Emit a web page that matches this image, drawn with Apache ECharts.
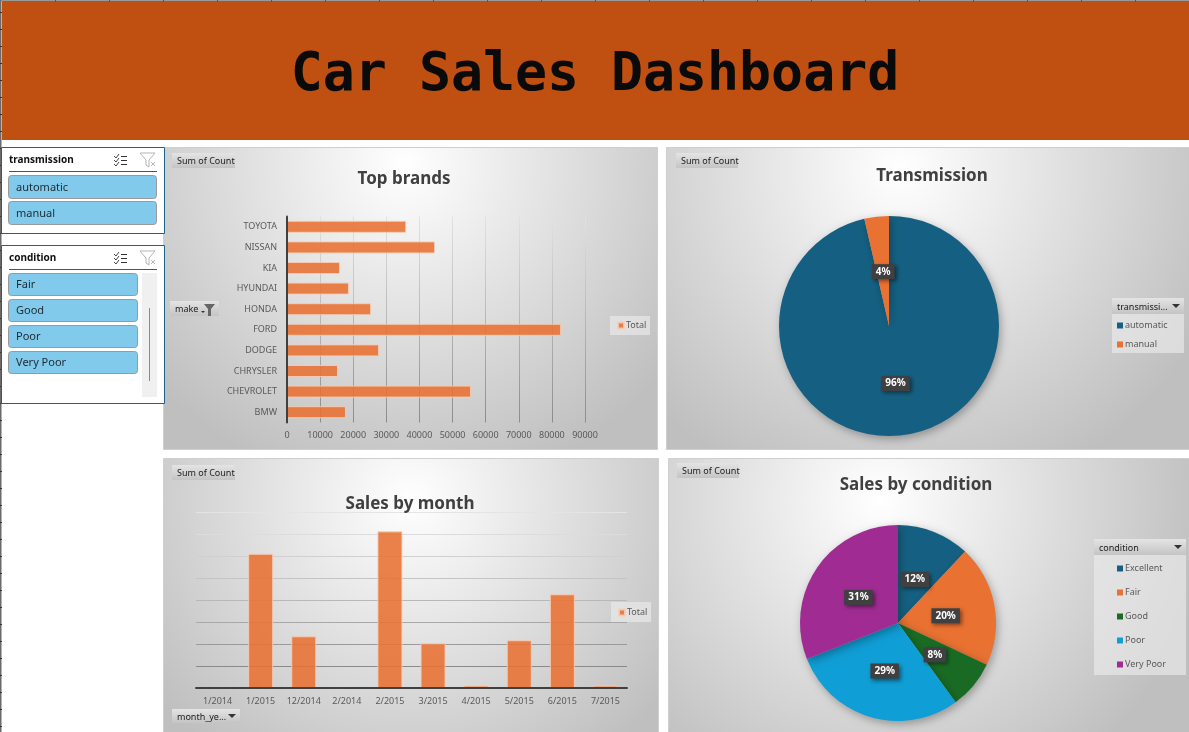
<!DOCTYPE html>
<html><head><meta charset="utf-8">
<style>html,body{margin:0;padding:0;background:#fff}#c{width:1189px;height:732px}</style>
<script src="https://cdn.jsdelivr.net/npm/echarts@6/dist/echarts.min.js"></script>
</head><body><div id="c"></div>
<script>
var dashboardTitle = 'Car Sales Dashboard';
var brandNames = ['BMW','CHEVROLET','CHRYSLER','DODGE','FORD','HONDA','HYUNDAI','KIA','NISSAN','TOYOTA'];
var brandCounts = [17800,55600,15400,27800,82800,25400,18700,16000,44700,36000];
var monthNames = ['1/2014','1/2015','12/2014','2/2014','2/2015','3/2015','4/2015','5/2015','6/2015','7/2015'];
var monthCounts = [null,61000,23500,null,71200,20300,1100,21700,42600,1100];
var transmissionNames = ['automatic','manual'];
var transmissionShares = [96.4,3.6];
var conditionNames = ['Excellent','Fair','Good','Poor','Very Poor'];
var conditionShares = [12,20,8,29,31];
var conditionSlicerItems = ['Fair','Good','Poor','Very Poor'];

var UI = '"Noto Sans", sans-serif';
var ORANGE = '#E97132';
var chart = echarts.init(document.getElementById('c'), null, {renderer:'canvas'});

function grad(x1,y1,x2,y2,c1,c2){ return new echarts.graphic.LinearGradient(x1,y1,x2,y2,[{offset:0,color:c1},{offset:1,color:c2}],true); }
function panel(x,y,w,h,cx,cy,r){
  return {type:'rect',z:-10,shape:{x:x+.5,y:y+.5,width:w,height:h},
    style:{fill:new echarts.graphic.RadialGradient(cx,cy,r,[{offset:0,color:'#ffffff'},{offset:1,color:'#bfbfbf'}],true),stroke:'#cfcfcf',lineWidth:1}};
}
function fieldBtn(x,y,w,h,label,arrow){
  var els=[{type:'rect',z:-5,shape:{x:x,y:y,width:w,height:h},style:{fill:grad(0,y,0,y+h,'#e4e4e4','#c4c4c4')}},
    {type:'text',z:-4,style:{x:x+5,y:y+h/2+1,text:label,font:'9px '+UI,fill:'#1a1a1a',verticalAlign:'middle'}}];
  if(arrow) els.push({type:'polygon',z:-4,shape:{points:[[x+w-12,y+h/2-2],[x+w-4,y+h/2-2],[x+w-8,y+h/2+2]]},style:{fill:'#333'}});
  return els;
}
function legendBox(x,y,w,h){ return {type:'rect',z:-5,shape:{x:x,y:y,width:w,height:h},style:{fill:'rgba(235,235,235,0.65)'}}; }
function slicerIcons(x,y){
  var els=[];
  [0,4,8].forEach(function(d){
    els.push({type:'polyline',shape:{points:[[x,y+d],[x+2,y+d+2],[x+5,y+d-2]]},style:{stroke:'#333',lineWidth:.9,fill:null}});
    els.push({type:'line',shape:{x1:x+7,y1:y+d+.5,x2:x+13,y2:y+d+.5},style:{stroke:'#333',lineWidth:1}});
  });
  els.push({type:'polyline',shape:{points:[[x+26,y-3],[x+41,y-3],[x+35,y+4],[x+35,y+11],[x+32,y+9],[x+32,y+4],[x+26,y-3]]},style:{stroke:'#b5b5b5',lineWidth:1,fill:null}});
  els.push({type:'line',shape:{x1:x+37,y1:y+6,x2:x+41,y2:y+10},style:{stroke:'#b5b5b5',lineWidth:1}});
  els.push({type:'line',shape:{x1:x+41,y1:y+6,x2:x+37,y2:y+10},style:{stroke:'#b5b5b5',lineWidth:1}});
  return els;
}
function slicer(y,h,title,items,bw,lineY,firstY,step,bh){
  var els=[{type:'rect',shape:{x:1.5,y:y+.5,width:163,height:h},style:{fill:'#fff',stroke:'#1F6287',lineWidth:1}},
    {type:'text',style:{x:9,y:lineY-11,text:title,font:'bold 10px '+UI,fill:'#111',verticalAlign:'middle'}},
    {type:'line',shape:{x1:9,y1:lineY+.5,x2:157,y2:lineY+.5},style:{stroke:'#1F6287',lineWidth:1}}];
  items.forEach(function(t,i){
    var by=firstY+i*step;
    els.push({type:'rect',shape:{x:8.5,y:by+.5,width:bw,height:bh,r:3},style:{fill:'#82CAEB',stroke:'#999',lineWidth:1}});
    els.push({type:'text',style:{x:16,y:by+bh/2+1,text:t,font:'11px '+UI,fill:'#1c2a33',verticalAlign:'middle'}});
  });
  return els.concat(slicerIcons(114,lineY-15));
}

var graphics=[];
graphics.push({type:'rect',z:-10,shape:{x:2,y:1,width:1187,height:139},style:{fill:'#BF5011'}});
graphics.push({type:'rect',z:-9,shape:{x:0,y:0,width:1189,height:1},style:{fill:'#9a9a9a'}});
graphics.push({type:'rect',z:-9,shape:{x:0,y:0,width:1.5,height:732},style:{fill:'#6a6a6a'}});
for(var tx=55;tx<1189;tx+=54){ graphics.push({type:'rect',z:-9,shape:{x:tx,y:0,width:1,height:2},style:{fill:'#555'}}); }
for(var ty=12;ty<732;ty+=17){ graphics.push({type:'rect',z:-9,shape:{x:0,y:ty,width:2,height:1},style:{fill:'#333'}}); }
graphics.push({type:'text',style:{x:595,y:76,text:dashboardTitle,font:'bold 53.2px "DejaVu Sans Mono", monospace',fill:'#0a0a0a',align:'center',verticalAlign:'middle'}});
graphics.push(panel(163,147,494,302,405,165,330));
graphics.push(panel(666,147,523,302,900,170,340));
graphics.push(panel(163,458,495,274,410,500,320));
graphics.push(panel(668,458,521,274,880,500,330));
graphics=graphics
 .concat(slicer(147,86,'transmission',transmissionNames,148,171,175,26,23))
 .concat(slicer(245,158,'condition',conditionSlicerItems,129,269,273,26,22));
graphics.push({type:'rect',shape:{x:142,y:273,width:15,height:124},style:{fill:'#f0f0f0'}});
graphics.push({type:'line',shape:{x1:149.5,y1:308,x2:149.5,y2:381},style:{stroke:'#8a8a8a',lineWidth:1}});
graphics=graphics
 .concat(fieldBtn(172,153,63,15,'Sum of Count'))
 .concat(fieldBtn(676,153,62,15,'Sum of Count'))
 .concat(fieldBtn(172,465,63,15,'Sum of Count'))
 .concat(fieldBtn(677,463,62,15,'Sum of Count'))
 .concat(fieldBtn(170,301,49,15,'make'))
 .concat(fieldBtn(172,709,68,14,'month_ye...',true))
 .concat(fieldBtn(1112,298,72,16,'transmissi...',true))
 .concat(fieldBtn(1094,539,92,16,'condition',true));
graphics.push({type:'polygon',z:-4,shape:{points:[[201,311],[205,311],[203,313]]},style:{fill:'#333'}});
graphics.push({type:'polygon',z:-4,shape:{points:[[204,304],[215,304],[211,309],[211,316],[208,316],[208,309]]},style:{fill:'#666'}});
graphics.push(legendBox(610,316,40,19));
graphics.push(legendBox(611,602,40,20));
graphics.push(legendBox(1112,314,72,39));
graphics.push(legendBox(1094,555,92,120));

function titleAt(text,x,y){ return {text:text,left:x,top:y,textAlign:'center',textStyle:{fontFamily:UI,fontWeight:'bold',fontSize:17,color:'#404040'},padding:0}; }
function legendAt(names,x,y,gap){ return {data:names,left:x,top:y,orient:'vertical',icon:'rect',itemWidth:6,itemHeight:6,itemGap:gap,padding:0,
  selectedMode:false,textStyle:{fontFamily:UI,fontSize:9,color:'#595959',padding:[0,0,0,-3],lineHeight:11}}; }
var pctLabel={show:true,position:'inside',formatter:'{d}%',color:'#fff',fontFamily:UI,fontWeight:'bold',fontSize:10,backgroundColor:'#404040',padding:[3,4,2,4],
  shadowBlur:4,shadowColor:'rgba(0,0,0,0.45)',shadowOffsetX:2,shadowOffsetY:2};
var pieShadow={shadowBlur:8,shadowColor:'rgba(0,0,0,0.3)',shadowOffsetX:2,shadowOffsetY:3};
function pullIn(cx,cy,ks,shiftY){
  return function(p){
    var k=ks[p.dataIndex];
    var lx=p.rect.x+p.rect.width/2, ly=p.rect.y+p.rect.height/2;
    return {dx:(k-1)*(lx-cx),dy:(k-1)*(ly-cy)+shiftY};
  };
}

var option={
  animation:false,
  title:[titleAt('Top brands',404,171),titleAt('Transmission',932,168),titleAt('Sales by month',410,496),titleAt('Sales by condition',916,477)],
  legend:[legendAt(['Total'],617,320,0),legendAt(transmissionNames,1117,320,8),legendAt(['Total'],618,607,0),legendAt(conditionNames,1117,563,13)],
  grid:[{left:287,top:216.5,width:298,height:206},{left:196,top:512,width:431,height:176}],
  xAxis:[
    {gridIndex:0,type:'value',min:0,max:90000,interval:10000,axisLine:{show:false},axisTick:{show:false},
     axisLabel:{fontFamily:UI,fontSize:9,color:'#595959',margin:8,formatter:function(v){return String(v);}},
     splitLine:{lineStyle:{width:1,color:grad(0,216,0,422,'#e2e2e2','#8c8c8c')}}},
    {gridIndex:1,type:'category',data:monthNames,z:5,axisLine:{lineStyle:{color:'#404040',width:2}},axisTick:{show:false},
     axisLabel:{fontFamily:UI,fontSize:9,color:'#595959',margin:9,interval:0},splitLine:{show:false}}
  ],
  yAxis:[
    {gridIndex:0,type:'category',data:brandNames,z:5,axisLine:{lineStyle:{color:'#404040',width:2}},axisTick:{show:false},
     axisLabel:{fontFamily:UI,fontSize:9,color:'#595959',margin:10,interval:0},splitLine:{show:false}},
    {gridIndex:1,type:'value',min:0,max:80000,interval:10000,axisLine:{show:false},axisTick:{show:false},axisLabel:{show:false},
     splitLine:{lineStyle:{width:1,color:['#8a8a8a','#8a8a8a','#9a9a9a','#a8a8a8','#b8b8b8','#c4c4c4','#d0d0d0','#dcdcdc','#e4e4e4']}}}
  ],
  series:[
    {name:'Total',type:'bar',xAxisIndex:0,yAxisIndex:0,data:brandCounts,barWidth:12,itemStyle:{color:ORANGE,opacity:.88,borderColor:'#f6cdb8',borderWidth:1}},
    {name:'Total',type:'bar',xAxisIndex:1,yAxisIndex:1,data:monthCounts,barWidth:25,itemStyle:{color:ORANGE,opacity:.88,borderColor:'#f6cdb8',borderWidth:1}},
    {name:'Transmission',type:'pie',center:[889,326],radius:[0,110],startAngle:90,clockwise:true,percentPrecision:0,
     data:transmissionNames.map(function(n,i){return {name:n,value:transmissionShares[i]};}),
     color:['#156082','#E97132'],label:pctLabel,labelLine:{show:false},labelLayout:pullIn(889,326,[0.89,0.94],0),itemStyle:pieShadow,emphasis:{disabled:true}},
    {name:'Condition',type:'pie',center:[898,623],radius:[0,98],startAngle:90,clockwise:true,percentPrecision:0,
     data:conditionNames.map(function(n,i){return {name:n,value:conditionShares[i]};}),
     color:['#156082','#E97132','#196B24','#0F9ED5','#A02B93'],label:pctLabel,labelLine:{show:false},labelLayout:pullIn(898,623,[0.93,0.93,0.93,0.93,0.93],1.5),itemStyle:pieShadow,emphasis:{disabled:true}}
  ],
  graphic:{elements:graphics}
};
chart.setOption(option);
</script></body></html>
